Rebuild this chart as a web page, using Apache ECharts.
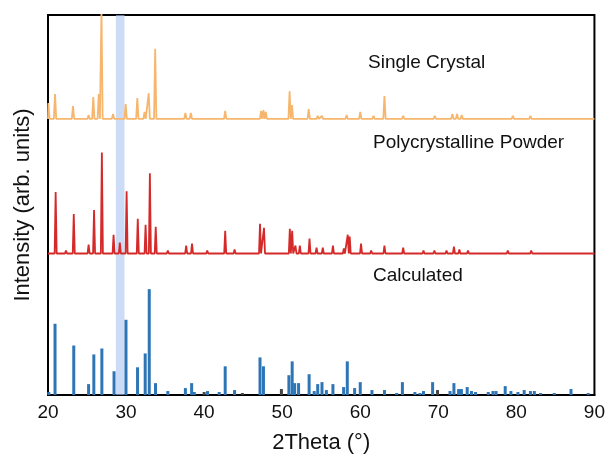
<!DOCTYPE html>
<html>
<head>
<meta charset="utf-8">
<script src="https://cdn.jsdelivr.net/npm/echarts@6/dist/echarts.min.js"></script>
<style>
  html, body { margin: 0; padding: 0; background: #fff; }
  #chart { width: 608px; height: 459px; }
</style>
</head>
<body>
<div id="chart"></div>
<script>
// peak lists: [2theta, height]
const singlePeaks = [
  [20.05, 16], [20.9, 25], [23.2, 13], [25.2, 4], [25.8, 22], [26.5, 25], [26.85, 110],
  [28.33, 5], [29.95, 15], [31.44, 21], [32.37, 7], [32.9, 26], [33.73, 71],
  [37.6, 6], [38.3, 6], [42.7, 8], [47.3, 8], [47.6, 9], [47.9, 7], [50.95, 28],
  [51.25, 14], [53.4, 10], [54.55, 3], [55.1, 3], [58.25, 4], [60.0, 7], [61.7, 3],
  [63.1, 23], [65.5, 3], [69.55, 3], [71.8, 5], [72.4, 5], [73.0, 4], [79.55, 3], [81.8, 3]
];
const powderPeaks = [
  [20.98, 62], [22.3, 3], [23.3, 40], [25.2, 9], [25.9, 44], [26.9, 102], [28.4, 19],
  [29.2, 11], [30.07, 63], [31.5, 35], [32.5, 29], [33.05, 81], [33.8, 27], [35.35, 3],
  [37.7, 8], [38.45, 10], [40.4, 3], [42.7, 23], [43.9, 4], [45.1, 2], [47.16, 30],
  [47.67, 26], [50.98, 25], [51.28, 23], [51.7, 8], [52.26, 8], [53.5, 15], [54.4, 6],
  [55.2, 6], [56.5, 8], [57.9, 5], [58.4, 19], [58.65, 17], [60.1, 10], [61.4, 3],
  [63.1, 8], [65.5, 6], [68.1, 3], [69.5, 3], [71.05, 3], [72.0, 7], [72.7, 4],
  [73.8, 3], [77.2, 2], [78.9, 3], [81.9, 3], [87.1, 2]
];
const calcPeaks = [
  [20.1, 3], [20.9, 72], [23.3, 50], [25.2, 11], [25.87, 41], [26.9, 47], [28.46, 24],
  [29.99, 76], [31.47, 28], [32.45, 42], [32.97, 107], [33.77, 12], [35.35, 4], [37.6, 7],
  [38.4, 12], [38.74, 3], [40.44, 4], [41.93, 3], [42.7, 29], [43.9, 5], [47.16, 38],
  [47.6, 29], [50.86, 20], [51.28, 34], [51.6, 12], [52.1, 12], [53.45, 21], [54.1, 4],
  [54.55, 11], [55.1, 13], [55.66, 5], [56.5, 11], [57.87, 8], [58.34, 34], [59.28, 7],
  [60.0, 13], [61.5, 5], [63.1, 5], [64.67, 2], [65.4, 13], [67.0, 3], [67.65, 2],
  [68.1, 4], [69.27, 13], [71.5, 4], [72.0, 12], [72.6, 6], [72.96, 6], [73.7, 8],
  [74.25, 4], [74.76, 3], [76.4, 3], [77.0, 4], [77.4, 4], [78.57, 9], [79.3, 4],
  [80.2, 3], [81.0, 5], [81.8, 4], [82.3, 4], [83.1, 2], [84.85, 2], [87.0, 6], [89.2, 2]
];
const calcMinorPeaks = [[40.0, 3], [44.9, 2], [49.9, 6], [69.9, 5]];
const xTicks = [20, 30, 40, 50, 60, 70, 80, 90];
const highlightBand = [28.7, 29.8];
const offsets = { single: 279, powder: 143, calc: 0 };

// turn a peak list into a stick-like profile on a flat baseline
const profile = (peaks, base, half) => {
  const pts = [[xTicks[0], base]];
  peaks.slice().sort((a, b) => a[0] - b[0]).forEach(([x, h]) => {
    pts.push([x - half, base], [x, base + h], [x + half, base]);
  });
  pts.push([xTicks[xTicks.length - 1], base]);
  return pts;
};

const calcData = calcPeaks.map(p => ({ value: p }))
  .concat(calcMinorPeaks.map(p => ({ value: p, itemStyle: { color: '#444' } })));

const chart = echarts.init(document.getElementById('chart'));
const font = '"Liberation Sans", Arial, sans-serif';
const option = {
  animation: false,
  grid: { left: 48, right: 11, top: 15, bottom: 60, show: true, borderColor: '#000', borderWidth: 2 },
  xAxis: {
    type: 'value', min: 20, max: 90, interval: 10,
    name: '2Theta (°)', nameLocation: 'middle', nameGap: 37,
    nameTextStyle: { fontSize: 22, color: '#111', fontFamily: font },
    axisLine: { show: true, lineStyle: { color: '#000', width: 2 } },
    axisTick: { show: false },
    splitLine: { show: false },
    axisLabel: { fontSize: 19, color: '#111', fontFamily: font, margin: 8 }
  },
  yAxis: {
    type: 'value', min: 0, max: 384,
    name: 'Intensity (arb. units)', nameLocation: 'middle', nameGap: 14,
    nameTextStyle: { fontSize: 22, color: '#111', fontFamily: font },
    axisLine: { show: true, lineStyle: { color: '#000', width: 2 } },
    axisTick: { show: false }, axisLabel: { show: false }, splitLine: { show: false }
  },
  series: [
    {
      type: 'line', data: [], z: 1,
      markArea: {
        silent: true,
        itemStyle: { color: 'rgba(170,195,240,0.6)' },
        data: [[{ xAxis: highlightBand[0] }, { xAxis: highlightBand[1] }]]
      }
    },
    {
      name: 'Calculated', type: 'bar', barWidth: 3, z: 2,
      itemStyle: { color: '#2e75b6' },
      data: calcData
    },
    {
      name: 'Polycrystalline Powder', type: 'line', showSymbol: false, z: 2,
      lineStyle: { color: '#d42a2a', width: 1.8 },
      data: profile(powderPeaks, offsets.powder, 0.13)
    },
    {
      name: 'Single Crystal', type: 'line', showSymbol: false, z: 2,
      lineStyle: { color: '#f6b66e', width: 1.8 },
      data: profile(singlePeaks, offsets.single, 0.15)
    }
  ],
  graphic: [
    { type: 'text', left: 368, top: 53, style: { text: 'Single Crystal', font: '19px ' + font, fill: '#111' } },
    { type: 'text', left: 373, top: 133, style: { text: 'Polycrystalline Powder', font: '19px ' + font, fill: '#111' } },
    { type: 'text', left: 373, top: 266, style: { text: 'Calculated', font: '19px ' + font, fill: '#111' } }
  ]
};
chart.setOption(option);
</script>
</body>
</html>
